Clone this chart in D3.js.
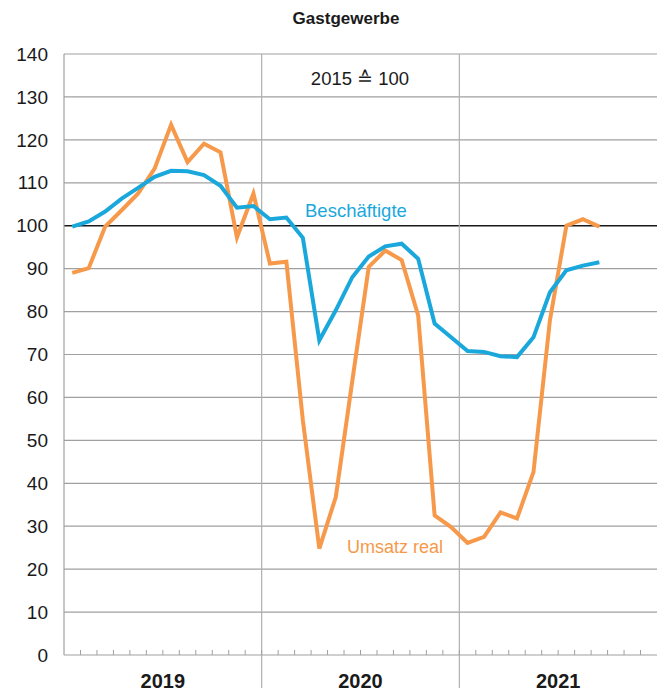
<!DOCTYPE html>
<html>
<head>
<meta charset="utf-8">
<script src="https://cdn.jsdelivr.net/npm/d3@7"></script>
<style>
  body { margin: 0; background: #fff; }
  text { font-family: "Liberation Sans", Arial, sans-serif; fill: #1a1a1a; }
</style>
</head>
<body>
<div id="chart"></div>
<script>
// monthly values, Jan 2019 - Sep 2021 (2015 = 100)
const years = ["2019", "2020", "2021"];
const beschaeftigte = [99.8, 101.0, 103.3, 106.3, 108.8, 111.4, 112.8, 112.7, 111.8, 109.3, 104.2, 104.6,
    101.5, 101.9, 97.2, 73.3, 80.3, 88.0, 92.8, 95.2, 95.8, 92.3, 77.2, 74.0,
    70.8, 70.6, 69.6, 69.4, 74.0, 84.5, 89.6, 90.7, 91.5];
const umsatz = [89.0, 90.1, 99.8, 103.6, 107.5, 113.3, 123.5, 114.8, 119.1, 117.1, 97.3, 107.5,
    91.2, 91.6, 54.7, 24.8, 36.8, 63.8, 90.4, 94.2, 92.0, 79.1, 32.5, 29.8,
    26.1, 27.5, 33.2, 31.8, 42.6, 78.0, 100.0, 101.5, 99.8];
const yTicks = [0, 10, 20, 30, 40, 50, 60, 70, 80, 90, 100, 110, 120, 130, 140];

const width = 667,
    height = 695,
    margin = ({ top: 54, right: 10, bottom: 40, left: 64 });

let svg = d3.select("#chart")
    .append("svg")
    .attr("width", width)
    .attr("height", height);

const nMonths = years.length * 12;

let x = d3.scaleLinear()
    .domain([0, nMonths])
    .range([margin.left, width - margin.right]);

let y = d3.scaleLinear()
    .domain([0, 140])
    .range([height - margin.bottom, margin.top]);

// horizontal grid
svg.append("g")
    .selectAll("line")
    .data(yTicks)
    .join("line")
    .attr("x1", margin.left)
    .attr("x2", width - margin.right)
    .attr("y1", d => y(d))
    .attr("y2", d => y(d))
    .attr("stroke", d => d === 100 ? "#1a1a1a" : "#a0a0a0")
    .attr("stroke-width", d => d === 100 ? 1.6 : 1.2);

// left axis line + year dividers
svg.append("line")
    .attr("x1", margin.left).attr("x2", margin.left)
    .attr("y1", y(140)).attr("y2", y(0))
    .attr("stroke", "#a0a0a0").attr("stroke-width", 1.2);

svg.append("g")
    .selectAll("line")
    .data([1, 2])
    .join("line")
    .attr("x1", d => x(d * 12)).attr("x2", d => x(d * 12))
    .attr("y1", y(140)).attr("y2", height - 7)
    .attr("stroke", "#b0b0b0").attr("stroke-width", 1.2);

// month ticks on zero line
svg.append("g")
    .selectAll("line")
    .data(d3.range(1, nMonths))
    .join("line")
    .attr("x1", d => x(d)).attr("x2", d => x(d))
    .attr("y1", y(0)).attr("y2", y(0) - 5)
    .attr("stroke", "#a0a0a0").attr("stroke-width", 1);

// y labels
svg.append("g")
    .selectAll("text")
    .data(yTicks)
    .join("text")
    .attr("x", 48)
    .attr("y", d => y(d))
    .attr("dy", "0.35em")
    .attr("text-anchor", "end")
    .style("font-size", "19px")
    .text(d => d);

// year labels
svg.append("g")
    .selectAll("text")
    .data(years)
    .join("text")
    .attr("x", (d, i) => x(i * 12 + 6))
    .attr("y", 688)
    .attr("text-anchor", "middle")
    .style("font-size", "20px")
    .style("font-weight", "bold")
    .text(d => d);

// title
svg.append("text")
    .attr("x", 346)
    .attr("y", 24)
    .attr("text-anchor", "middle")
    .style("font-size", "17px")
    .style("font-weight", "bold")
    .text("Gastgewerbe");

svg.append("text")
    .attr("x", 360)
    .attr("y", 85)
    .attr("text-anchor", "middle")
    .style("font-size", "18.5px")
    .text("2015 ≙ 100");

// lines
let line = d3.line()
    .x((d, i) => x(i + 0.5))
    .y(d => y(d));

svg.append("path")
    .datum(umsatz)
    .attr("fill", "none")
    .attr("stroke", "#f7994a")
    .attr("stroke-width", 4)
    .attr("stroke-linejoin", "miter")
    .attr("d", line);

svg.append("path")
    .datum(beschaeftigte)
    .attr("fill", "none")
    .attr("stroke", "#1aa8dc")
    .attr("stroke-width", 4)
    .attr("d", line);

// series labels
svg.append("text")
    .attr("x", 305)
    .attr("y", 217)
    .style("font-size", "18.5px")
    .style("fill", "#1aa8dc")
    .text("Beschäftigte");

svg.append("text")
    .attr("x", 347)
    .attr("y", 553)
    .style("font-size", "18px")
    .style("fill", "#f7994a")
    .text("Umsatz real");
</script>
</body>
</html>
